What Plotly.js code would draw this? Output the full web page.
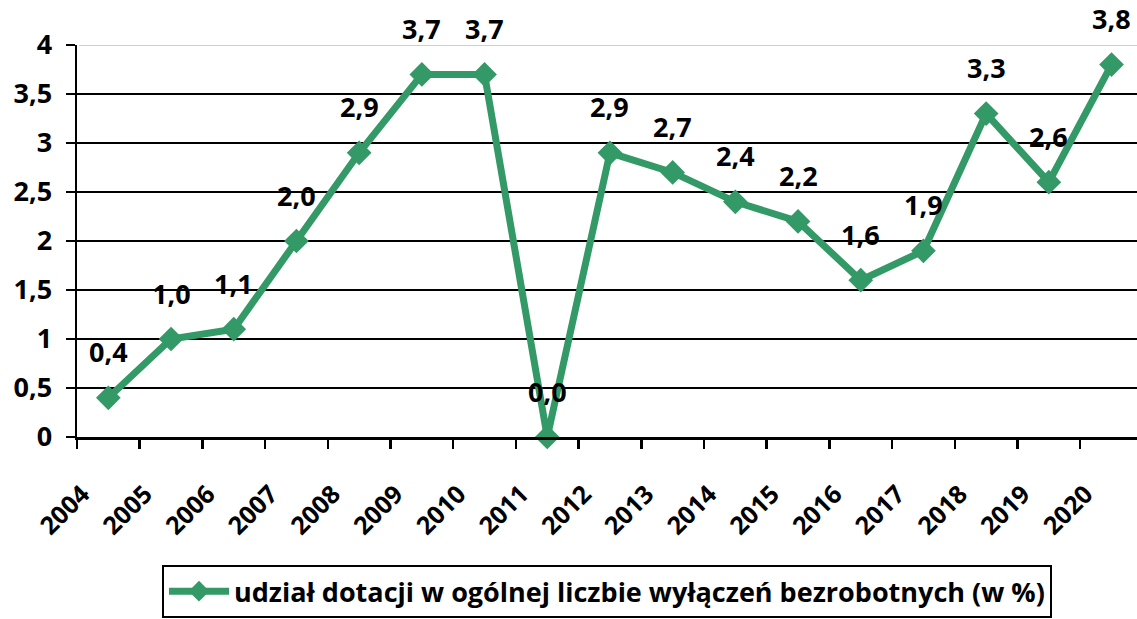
<!DOCTYPE html>
<html>
<head>
<meta charset="utf-8">
<script src="https://cdn.plot.ly/plotly-3.0.1.min.js"></script>
<style>html,body{margin:0;padding:0;background:#fff;}#chart{width:1137px;height:619px;}</style>
</head>
<body>
<div id="chart"></div>
<script>
const years = ["2004","2005","2006","2007","2008","2009","2010","2011","2012","2013","2014","2015","2016","2017","2018","2019","2020"];
const shareValues = [0.4,1.0,1.1,2.0,2.9,3.7,3.7,0.0,2.9,2.7,2.4,2.2,1.6,1.9,3.3,2.6,3.8];
const seriesName = "udział dotacji w ogólnej liczbie wyłączeń bezrobotnych (w %)";
const yTickVals = [0,0.5,1,1.5,2,2.5,3,3.5,4];
const yTickText = ["0","0,5","1","1,5","2","2,5","3","3,5","4"];

const green = "#339966";
const fontFam = "'Open Sans', 'DejaVu Sans', sans-serif";
const fs = 27;

const trace = {
  x: years, y: shareValues, type: "scatter", mode: "lines+markers",
  name: seriesName,
  line: {color: green, width: 7},
  marker: {symbol: "diamond", size: 19, color: green},
  cliponaxis: false
};

const annotations = years.map((yr, i) => ({
  x: i, y: shareValues[i], xref: "x", yref: "y",
  text: shareValues[i].toFixed(1).replace(".", ","),
  showarrow: false, yshift: 46,
  font: {family: fontFam, size: fs, color: "#000", weight: "bold"}
}));

const yMax = yTickVals[yTickVals.length - 1];

const layout = {
  width: 1137, height: 619,
  margin: {l: 77, r: 0, t: 45, b: 182},
  paper_bgcolor: "#fff", plot_bgcolor: "#fff",
  separators: ", ",
  showlegend: true,
  font: {family: fontFam, size: fs, color: "#000", weight: "bold"},
  xaxis: {
    type: "category", range: [-0.5, 16.406], automargin: false,
    tickson: "boundaries", ticks: "outside", ticklen: 9, tickwidth: 2.5, tickcolor: "#000",
    showline: true, linecolor: "#000", linewidth: 2.5,
    showgrid: false, zeroline: false, tickangle: -45,
    ticklabelstandoff: 30, ticklabelshift: -26,
    tickfont: {family: fontFam, size: 25, color: "#000", weight: "bold"}
  },
  yaxis: {
    range: [0, yMax], tickvals: yTickVals, ticktext: yTickText, automargin: false,
    ticks: "outside", ticklen: 9, tickwidth: 2.5, tickcolor: "#000",
    showline: true, linecolor: "#000", linewidth: 2.5,
    showgrid: true, gridcolor: "#000", gridwidth: 2.5, zeroline: false,
    ticklabelstandoff: 8,
    tickfont: {family: fontFam, size: fs, color: "#000", weight: "bold"}
  },
  shapes: [
    {type: "line", xref: "paper", yref: "y", x0: 0.002, x1: 1, y0: yMax, y1: yMax, layer: "above", line: {color: "#fff", width: 4}},
    {type: "line", xref: "paper", yref: "y", x0: 0.002, x1: 1, y0: yMax, y1: yMax, layer: "above", line: {color: "#bfbfbf", width: 1.5}}
  ],
  legend: {
    orientation: "h", x: 0.5, xanchor: "center", y: -0.462, yanchor: "bottom",
    bordercolor: "#000", borderwidth: 2, bgcolor: "#fff", itemwidth: 60,
    font: {family: fontFam, size: fs, color: "#000", weight: "bold"}
  },
  annotations: annotations
};

Plotly.newPlot("chart", [trace], layout, {displayModeBar: false, staticPlot: true});
</script>
</body>
</html>
